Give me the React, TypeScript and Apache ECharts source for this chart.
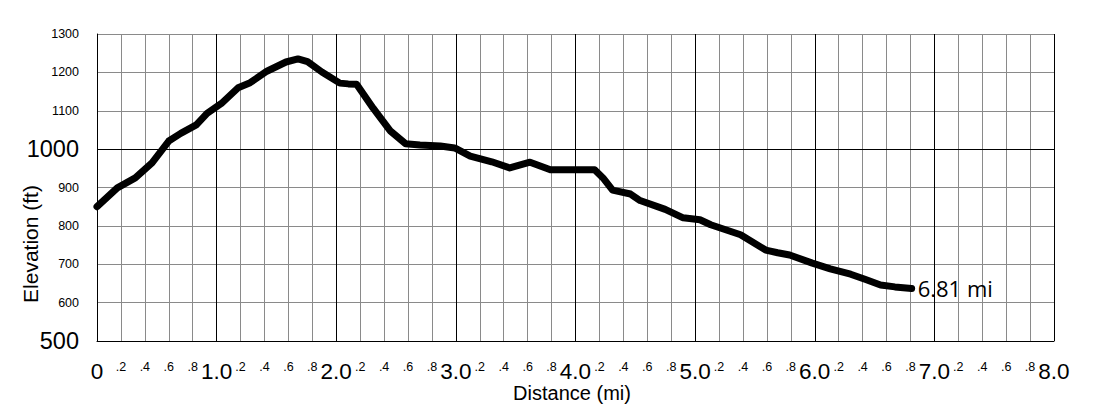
import React, { useEffect, useRef } from "react";
import * as echarts from "echarts";

const distances = [
  0, 0.17, 0.32, 0.46, 0.6, 0.7, 0.83, 0.92, 1.04, 1.18, 1.28, 1.42, 1.58, 1.68, 1.76,
  1.88, 2.03, 2.1, 2.17, 2.31, 2.45, 2.58, 2.7, 2.87, 2.99, 3.12, 3.3, 3.45, 3.62, 3.79,
  4.0, 4.16, 4.23, 4.31, 4.46, 4.54, 4.75, 4.9, 5.04, 5.13, 5.38, 5.59, 5.69, 5.79, 5.98,
  6.13, 6.3, 6.42, 6.55, 6.67, 6.81,
];
const elevations = [
  850, 899, 925, 964, 1021, 1041, 1063, 1093, 1119, 1160, 1173, 1203, 1227, 1235, 1228,
  1201, 1172, 1170, 1169, 1106, 1048, 1014, 1011, 1008, 1003, 982, 967, 951, 966, 946,
  946, 946, 925, 893, 883, 866, 843, 821, 816, 803, 777, 737, 730, 724, 703, 688, 674,
  661, 646, 641, 637,
];
const majorX = [1, 2, 3, 4, 5, 6, 7, 8];
const majorY = [1000];
const bigYTicks = [1000, 500];
const endLabelText = "6.81 mi";
const xName = "Distance (mi)";
const yName = "Elevation (ft)";

const FONT = "'Liberation Sans', Arial, sans-serif";

export default function App() {
  const ref = useRef<HTMLDivElement>(null);
  useEffect(() => {
    if (!ref.current) return;
    const chart = echarts.init(ref.current, null, { renderer: "svg" });
    const data = distances.map((d, i) => [d, elevations[i]]);
    chart.setOption({
      animation: false,
      backgroundColor: "#fff",
      textStyle: { fontFamily: FONT, color: "#000" },
      grid: { left: 97, right: 48, top: 34, bottom: 65, containLabel: false },
      xAxis: {
        type: "value",
        min: 0,
        max: 8,
        interval: 0.2,
        axisLine: { show: true, lineStyle: { color: "#000", width: 1 } },
        axisTick: { show: false },
        splitLine: { show: true, lineStyle: { color: "#8a8a8a", width: 1 } },
        axisLabel: {
          margin: 30,
          verticalAlign: "middle",
          showMinLabel: true,
          showMaxLabel: true,
          hideOverlap: false,
          formatter: (v: number) => {
            const r = Math.round(v * 10) / 10;
            if (Math.abs(r - Math.round(r)) < 1e-6) {
              return "{big|" + (r === 0 ? "0" : r.toFixed(1)) + "}";
            }
            return "{small|." + Math.round((r - Math.floor(r)) * 10) + "}";
          },
          rich: {
            big: { fontSize: 22.5, lineHeight: 16, fontFamily: FONT, color: "#000" },
            small: { fontSize: 12.5, lineHeight: 10, fontFamily: FONT, color: "#000", padding: [0, 0, 8, 0] },
          },
        },
      },
      yAxis: {
        type: "value",
        min: 500,
        max: 1300,
        interval: 100,
        axisLine: { show: true, lineStyle: { color: "#000", width: 1 } },
        axisTick: { show: false },
        splitLine: { show: true, lineStyle: { color: "#8a8a8a", width: 1 } },
        axisLabel: {
          margin: 18,
          verticalAlign: "middle",
          formatter: (v: number) =>
            bigYTicks.includes(v) ? "{big|" + v + "}" : "{small|" + v + "}",
          rich: {
            big: { fontSize: 23.5, fontFamily: FONT, color: "#000" },
            small: { fontSize: 12.5, fontFamily: FONT, color: "#000" },
          },
        },
      },
      graphic: [
        {
          type: "text",
          x: 572,
          y: 392.5,
          style: {
            text: xName,
            fontSize: 20,
            fontFamily: FONT,
            fill: "#000",
            align: "center",
            verticalAlign: "middle",
          },
        },
        {
          type: "text",
          x: 30,
          y: 244,
          rotation: Math.PI / 2,
          style: {
            text: yName,
            fontSize: 21,
            fontFamily: FONT,
            fill: "#000",
            align: "center",
            verticalAlign: "middle",
          },
        },
      ],
      series: [
        {
          type: "line",
          data,
          symbol: "none",
          smooth: false,
          lineStyle: { color: "#000", width: 7, join: "round", cap: "round" },
          endLabel: {
            show: true,
            formatter: endLabelText,
            fontSize: 22,
            fontFamily: "'Open Sans', sans-serif",
            color: "#000",
            distance: 6,
          },
          markLine: {
            silent: true,
            symbol: "none",
            label: { show: false },
            lineStyle: { color: "#000", width: 1, type: "solid" },
            data: [
              ...majorX.map((x) => ({ xAxis: x })),
              ...majorY.map((y) => ({ yAxis: y })),
            ],
          },
          z: 3,
        },
      ],
    });
    return () => chart.dispose();
  }, []);
  return (
    <div
      ref={ref}
      style={{ position: "fixed", left: 0, top: 0, width: 1102, height: 406 }}
    />
  );
}
